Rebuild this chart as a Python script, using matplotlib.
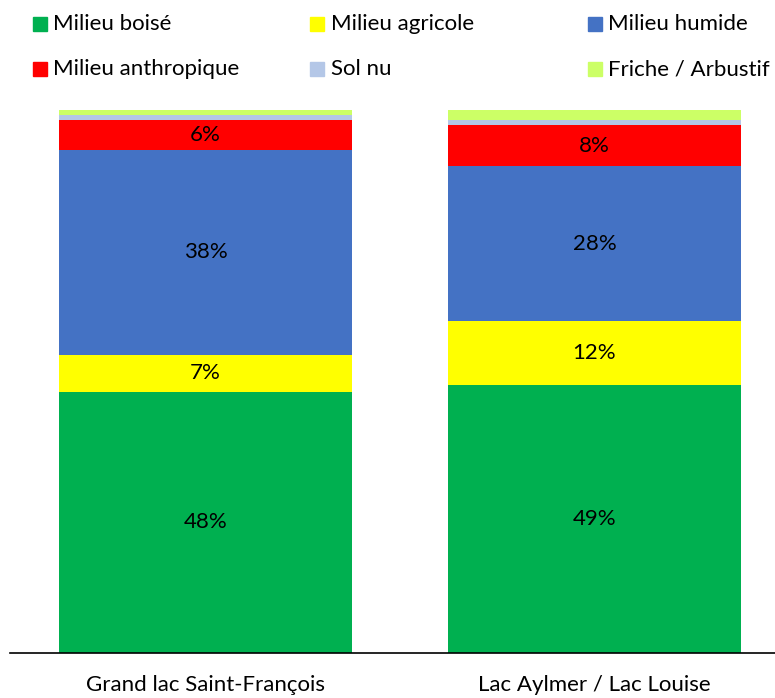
import matplotlib
matplotlib.use("Agg")
import matplotlib.pyplot as plt
from matplotlib.patches import Rectangle
import numpy as np

plt.rcParams['font.family'] = ['Lato', 'DejaVu Sans']

categories = ["Grand lac Saint-François", "Lac Aylmer / Lac Louise"]
series_names = ["Milieu boisé", "Milieu agricole", "Milieu humide",
                "Milieu anthropique", "Sol nu", "Friche / Arbustif"]
boise = [48.1, 49.4]
agricole = [6.8, 11.8]
humide = [37.8, 28.4]
anthropique = [5.5, 7.7]
sol_nu = [0.9, 0.9]
friche = [0.9, 1.8]
labels = [["48%", "49%"], ["7%", "12%"], ["38%", "28%"], ["6%", "8%"], None, None]
colors = ["#00B050", "#FFFF00", "#4472C4", "#FF0000", "#B4C7E7", "#CCFF66"]

FS = 16
W, H = 775, 698
fig = plt.figure(figsize=(W / 100, H / 100), dpi=100)
# axes in pixel coords: x 10..775, y 110..653
ax = fig.add_axes([10 / W, (H - 653) / H, (775 - 10) / W, (653 - 110) / H])

x = np.arange(len(categories))
bottom = np.zeros(len(categories))
all_series = [boise, agricole, humide, anthropique, sol_nu, friche]
for vals, name, col, lab in zip(all_series, series_names, colors, labels):
    vals = np.array(vals)
    ax.bar(x, vals, bottom=bottom, width=293 / 389, color=col, label=name)
    if lab is not None:
        for xi, b, v, t in zip(x, bottom, vals, lab):
            ax.text(xi, b + v / 2, t, ha="center", va="center", fontsize=FS, color="black")
    bottom += vals

ax.set_xlim(-195.5 / 389, 1 + 180.5 / 389)
ax.set_ylim(0, 100)
for s in ["top", "right", "left"]:
    ax.spines[s].set_visible(False)
ax.spines["bottom"].set_color("black")
ax.spines["bottom"].set_linewidth(1.2)
ax.set_yticks([])
ax.set_xticks(x)
ax.set_xticklabels(categories, fontsize=FS)
ax.tick_params(axis="x", length=0, pad=16)

# legend (manual 3-column layout)
sq_x = [33, 310, 588]
txt_x = [53, 331, 608]
row_y = [23.5, 69]
for i, (name, col) in enumerate(zip(series_names, colors)):
    r, c = divmod(i, 3)
    sy = row_y[r]
    fig.patches.append(Rectangle((sq_x[c] / W, (H - sy - 7) / H), 14 / W, 14 / H,
                                 transform=fig.transFigure, color=col))
    fig.text(txt_x[c] / W, (H - sy) / H, name, ha="left", va="center", fontsize=FS)

fig.savefig("out.png", dpi=100)
